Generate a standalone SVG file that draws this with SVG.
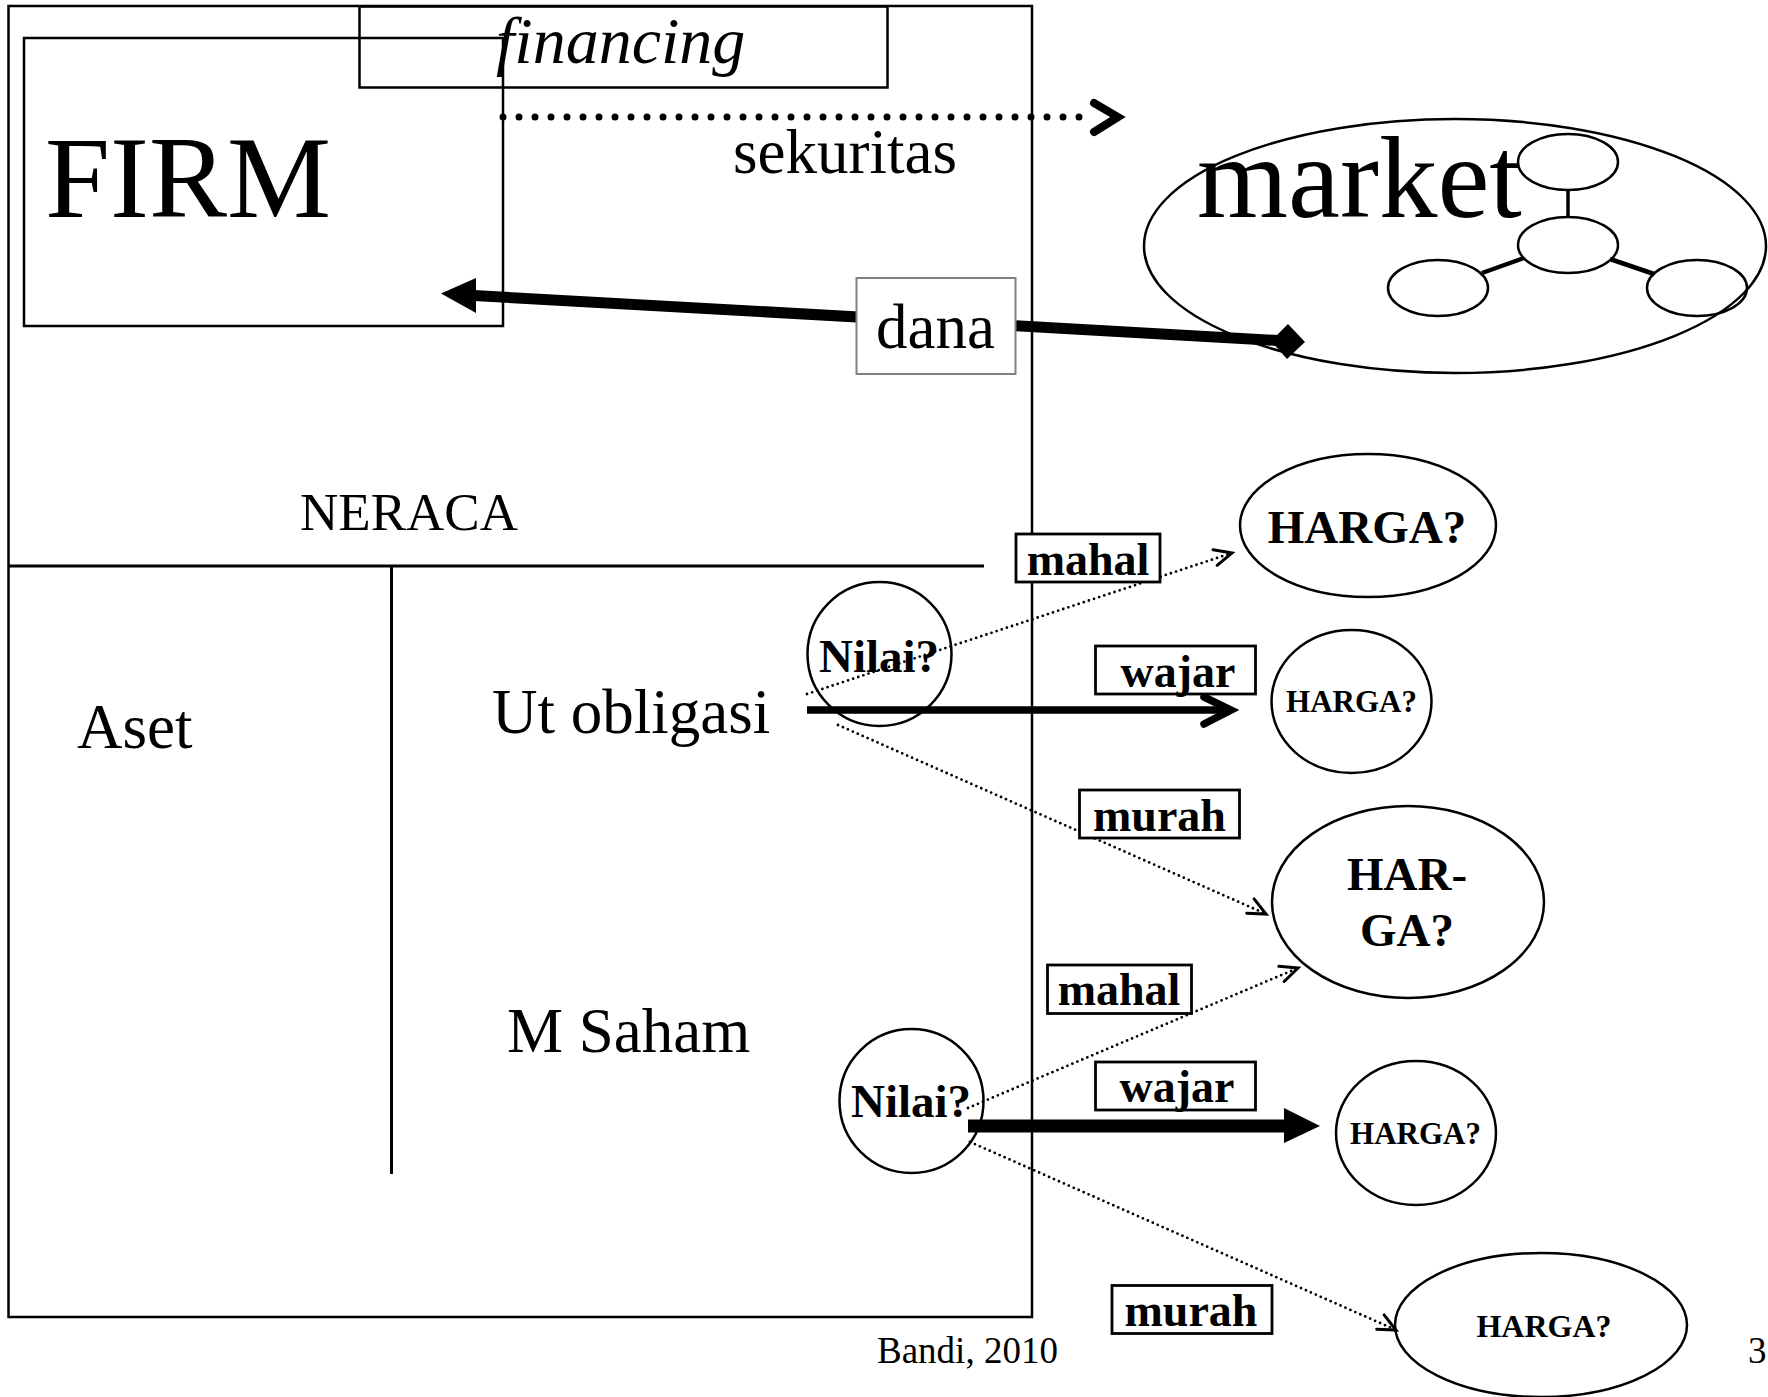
<svg xmlns="http://www.w3.org/2000/svg" width="1768" height="1397" viewBox="0 0 1768 1397">
<style>
  text { font-family: "Liberation Serif", "Times New Roman", serif; fill: #000; }
  .b { font-weight: bold; }
  .box { fill: none; stroke: #000; stroke-width: 2.5; }
  .lbl { fill: #fff; stroke: #000; stroke-width: 2.8; }
  .ell { fill: none; stroke: #000; stroke-width: 2.5; }
  .fine { fill: none; stroke: #000; stroke-width: 2.8; stroke-dasharray: 0 5.4; stroke-linecap: round; }
  .thin { stroke: #000; stroke-width: 3; fill: none; }
</style>
<defs>
  <marker id="open" viewBox="-22 -12 26 24" refX="0" refY="0" markerWidth="26" markerHeight="24" markerUnits="userSpaceOnUse" orient="auto">
    <path d="M -17 -9 L 0 0 L -18 7" fill="none" stroke="#000" stroke-width="3" stroke-linecap="round" stroke-linejoin="miter"/>
  </marker>
</defs>
<rect width="1768" height="1397" fill="#fff"/>

<g id="neraca">
  <rect x="8.5" y="6" width="1023.5" height="1311" class="box"/>
  <line x1="8" y1="566" x2="984" y2="566" class="thin"/>
  <line x1="391.5" y1="566" x2="391.5" y2="1174" class="thin"/>
  <text x="300" y="530" font-size="53">NERACA</text>
  <text x="77" y="748" font-size="63">Aset</text>
  <text x="492" y="733" font-size="63">Ut obligasi</text>
  <text x="507" y="1052" font-size="63">M Saham</text>
</g>

<g id="firm">
  <rect x="24" y="38" width="479" height="288" class="box"/>
  <text x="45" y="217" font-size="117">FIRM</text>
</g>

<g id="financing">
  <rect x="359.5" y="6.5" width="528" height="81" class="box"/>
  <text x="496" y="63" font-size="66" font-style="italic">financing</text>
</g>

<g id="sekuritas">
  <text x="733" y="173" font-size="63">sekuritas</text>
</g>

<g id="market">
  <ellipse cx="1455" cy="246" rx="311" ry="127" class="ell"/>
  <text x="1197" y="217" font-size="117">market</text>
  <line x1="1568" y1="190" x2="1568" y2="218" stroke="#000" stroke-width="3.5"/>
  <line x1="1482" y1="273" x2="1524" y2="258" stroke="#000" stroke-width="4.5"/>
  <line x1="1610" y1="259" x2="1654" y2="274" stroke="#000" stroke-width="4.5"/>
  <ellipse cx="1568" cy="162" rx="50" ry="28" class="ell"/>
  <ellipse cx="1568" cy="245" rx="50" ry="28" class="ell"/>
  <ellipse cx="1438" cy="288" rx="50" ry="28" class="ell"/>
  <ellipse cx="1697" cy="288" rx="50" ry="28" class="ell"/>
</g>

<g id="connectors">
  <!-- sekuritas dotted arrow -->
  <line x1="503" y1="117" x2="1095" y2="117" stroke="#000" stroke-width="7" stroke-dasharray="0 16" stroke-linecap="round"/>
  <path d="M1094,103 L1118,117 L1094,132" fill="none" stroke="#000" stroke-width="8" stroke-linecap="round" stroke-linejoin="miter"/>
  <!-- dana thick arrow -->
  <line x1="474" y1="295.5" x2="1278" y2="340.5" stroke="#000" stroke-width="11"/>
  <polygon points="441,293.5 476,278 476,313" fill="#000"/>
  <polygon points="1288,324 1305,342 1287,359 1271,341" fill="#000"/>
  <!-- obligasi -->
  <line x1="807" y1="694" x2="1232" y2="553" class="fine" marker-end="url(#open)"/>
  <line x1="838" y1="725" x2="1266" y2="914" class="fine" marker-end="url(#open)"/>
  <line x1="807" y1="710" x2="1228" y2="710" stroke="#000" stroke-width="7.5"/>
  <path d="M1204,697 L1231,710 L1204,724" fill="none" stroke="#000" stroke-width="7.5" stroke-linecap="round"/>
  <!-- saham -->
  <line x1="968" y1="1108" x2="1298" y2="968" class="fine" marker-end="url(#open)"/>
  <line x1="970" y1="1142" x2="1396" y2="1330" class="fine" marker-end="url(#open)"/>
  <line x1="968" y1="1126" x2="1286" y2="1126" stroke="#000" stroke-width="13"/>
  <polygon points="1284,1108 1320,1126 1284,1143" fill="#000"/>
</g>

<g id="dana">
  <rect x="856.5" y="278" width="159" height="96" fill="#fff" stroke="#808080" stroke-width="2"/>
  <text x="935.5" y="348" font-size="63" text-anchor="middle">dana</text>
</g>

<g id="nilai-obligasi">
  <ellipse cx="879.5" cy="654" rx="72" ry="72" class="ell"/>
  <text x="879" y="672" font-size="47" class="b" text-anchor="middle">Nilai?</text>
</g>
<g id="nilai-saham">
  <ellipse cx="911.5" cy="1101" rx="72" ry="72" class="ell"/>
  <text x="911" y="1117" font-size="47" class="b" text-anchor="middle">Nilai?</text>
</g>

<g id="label-mahal-1">
  <rect x="1016" y="534" width="144" height="48" class="lbl"/>
  <text x="1088" y="575" font-size="46" class="b" text-anchor="middle">mahal</text>
</g>
<g id="label-wajar-1">
  <rect x="1095.5" y="646" width="160" height="48" class="lbl"/>
  <text x="1178" y="687" font-size="46" class="b" text-anchor="middle">wajar</text>
</g>
<g id="label-murah-1">
  <rect x="1079.5" y="790" width="160" height="48" class="lbl"/>
  <text x="1159.5" y="831" font-size="46" class="b" text-anchor="middle">murah</text>
</g>
<g id="label-mahal-2">
  <rect x="1047.5" y="965" width="144" height="48.5" class="lbl"/>
  <text x="1119" y="1005" font-size="46" class="b" text-anchor="middle">mahal</text>
</g>
<g id="label-wajar-2">
  <rect x="1095.5" y="1062" width="160" height="48" class="lbl"/>
  <text x="1177" y="1102" font-size="46" class="b" text-anchor="middle">wajar</text>
</g>
<g id="label-murah-2">
  <rect x="1112" y="1285.5" width="160" height="48" class="lbl"/>
  <text x="1191" y="1326" font-size="46" class="b" text-anchor="middle">murah</text>
</g>

<g id="harga-1">
  <ellipse cx="1368" cy="525.5" rx="128" ry="71.5" class="ell"/>
  <text x="1367" y="543" font-size="47" class="b" text-anchor="middle">HARGA?</text>
</g>
<g id="harga-2">
  <ellipse cx="1351.5" cy="701.5" rx="80" ry="71.5" class="ell"/>
  <text x="1351.5" y="712" font-size="31" class="b" text-anchor="middle">HARGA?</text>
</g>
<g id="harga-3">
  <ellipse cx="1408" cy="902" rx="136" ry="96" class="ell"/>
  <text x="1407" y="890" font-size="47" class="b" text-anchor="middle">HAR-</text>
  <text x="1407" y="946" font-size="47" class="b" text-anchor="middle">GA?</text>
</g>
<g id="harga-4">
  <ellipse cx="1416" cy="1133" rx="80" ry="72" class="ell"/>
  <text x="1415.5" y="1144" font-size="31" class="b" text-anchor="middle">HARGA?</text>
</g>
<g id="harga-5">
  <ellipse cx="1541" cy="1325" rx="146" ry="72" class="ell"/>
  <text x="1544" y="1337" font-size="32" class="b" text-anchor="middle">HARGA?</text>
</g>

<g id="footer">
  <text x="877" y="1363" font-size="37">Bandi, 2010</text>
  <text x="1748" y="1363" font-size="37">3</text>
</g>
</svg>
